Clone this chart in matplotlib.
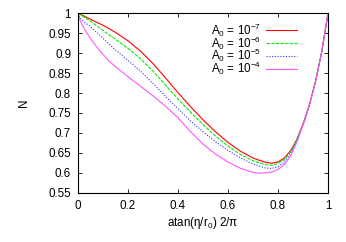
import numpy as np
import matplotlib
matplotlib.use("Agg")
import matplotlib.pyplot as plt

plt.rcParams['font.family'] = ['Liberation Sans', 'DejaVu Sans']
plt.rcParams['mathtext.fontset'] = 'custom'
plt.rcParams['mathtext.rm'] = 'Liberation Sans'
plt.rcParams['mathtext.it'] = 'Liberation Sans'

# values
x_red = [0, 0.025, 0.05, 0.1, 0.15, 0.2, 0.25, 0.3, 0.35, 0.4, 0.45, 0.5, 0.55, 0.6,
         0.65, 0.7, 0.75, 0.775, 0.8, 0.825, 0.85, 0.875, 0.9, 0.925, 0.95, 0.975, 1.0]
n_red = [1.0, 0.993, 0.985, 0.970, 0.952, 0.931, 0.905, 0.874, 0.838, 0.801, 0.766,
         0.733, 0.703, 0.676, 0.654, 0.637, 0.626, 0.624, 0.627, 0.637, 0.655, 0.683,
         0.721, 0.769, 0.829, 0.904, 1.0]

x_green = x_red
n_green = [1.0, 0.990, 0.980, 0.957, 0.935, 0.912, 0.886, 0.855, 0.820, 0.785, 0.752,
           0.721, 0.692, 0.667, 0.646, 0.630, 0.620, 0.619, 0.623, 0.633, 0.652, 0.682,
           0.721, 0.769, 0.829, 0.904, 1.0]

x_blue = [0, 0.01, 0.025, 0.04, 0.07, 0.1, 0.15, 0.2, 0.25, 0.3, 0.35, 0.4, 0.45, 0.5,
          0.55, 0.6, 0.65, 0.7, 0.75, 0.775, 0.8, 0.825, 0.85, 0.875, 0.9, 0.925, 0.95,
          0.975, 1.0]
n_blue = [1.0, 0.987, 0.978, 0.971, 0.955, 0.937, 0.908, 0.882, 0.855, 0.824, 0.792,
          0.761, 0.730, 0.703, 0.678, 0.656, 0.637, 0.622, 0.612, 0.611, 0.615, 0.627,
          0.648, 0.680, 0.721, 0.769, 0.829, 0.904, 1.0]

x_mag = [0, 0.005, 0.01, 0.02, 0.04, 0.06, 0.08, 0.1, 0.125, 0.15, 0.2, 0.25, 0.3, 0.35,
         0.4, 0.45, 0.5, 0.55, 0.6, 0.65, 0.7, 0.725, 0.75, 0.775, 0.8, 0.825, 0.85, 0.875,
         0.9, 0.925, 0.95, 0.975, 1.0]
n_mag = [1.0, 0.988, 0.980, 0.967, 0.946, 0.928, 0.912, 0.897, 0.880, 0.866, 0.841,
         0.817, 0.793, 0.767, 0.738, 0.703, 0.672, 0.647, 0.627, 0.611, 0.601, 0.599,
         0.600, 0.602, 0.608, 0.621, 0.642, 0.676, 0.719, 0.768, 0.828, 0.904, 1.0]

labels = [r'A$_0$ = 10$^{-7}$', r'A$_0$ = 10$^{-6}$', r'A$_0$ = 10$^{-5}$', r'A$_0$ = 10$^{-4}$']
xticks = [0, 0.2, 0.4, 0.6, 0.8, 1]
xticklabels = ['0', '0.2', '0.4', '0.6', '0.8', '1']
yticks = [0.55, 0.6, 0.65, 0.7, 0.75, 0.8, 0.85, 0.9, 0.95, 1]
yticklabels = ['0.55', '0.6', '0.65', '0.7', '0.75', '0.8', '0.85', '0.9', '0.95', '1']

fig = plt.figure(figsize=(3.46, 2.42), dpi=100)
ax = fig.add_axes([0.2254, 0.2037, 0.7226, 0.7413])

ax.plot(x_red, n_red, color='#ff0000', lw=0.8, label=labels[0])
ax.plot(x_green, n_green, color='#00ee00', lw=0.8, dashes=(3, 1.2), label=labels[1])
ax.plot(x_blue, n_blue, color='#3333ff', lw=0.8, dashes=(1, 1.5), label=labels[2])
ax.plot(x_mag, n_mag, color='#ff55ff', lw=0.8, label=labels[3])

ax.set_xlim(0, 1)
ax.set_ylim(0.55, 1)
ax.set_xticks(xticks)
ax.set_xticklabels(xticklabels)
ax.set_yticks(yticks)
ax.set_yticklabels(yticklabels)
ax.tick_params(direction='in', top=True, right=True, labelsize=8.4, length=3, width=0.6, pad=5)
for s in ax.spines.values():
    s.set_linewidth(0.8)

ax.set_xlabel(r'atan($\eta$/r$_0$) 2/$\pi$', fontsize=8.4, labelpad=2.5)
ax.set_ylabel('N', fontsize=8.4, labelpad=13, rotation=90)

ax.legend(loc='upper right', bbox_to_anchor=(0.876, 0.955), frameon=False, fontsize=8.4,
          markerfirst=False, handlelength=2.65, handletextpad=0.4, labelspacing=-0.38,
          borderaxespad=0, borderpad=0)

fig.savefig('out.png', dpi=100)
